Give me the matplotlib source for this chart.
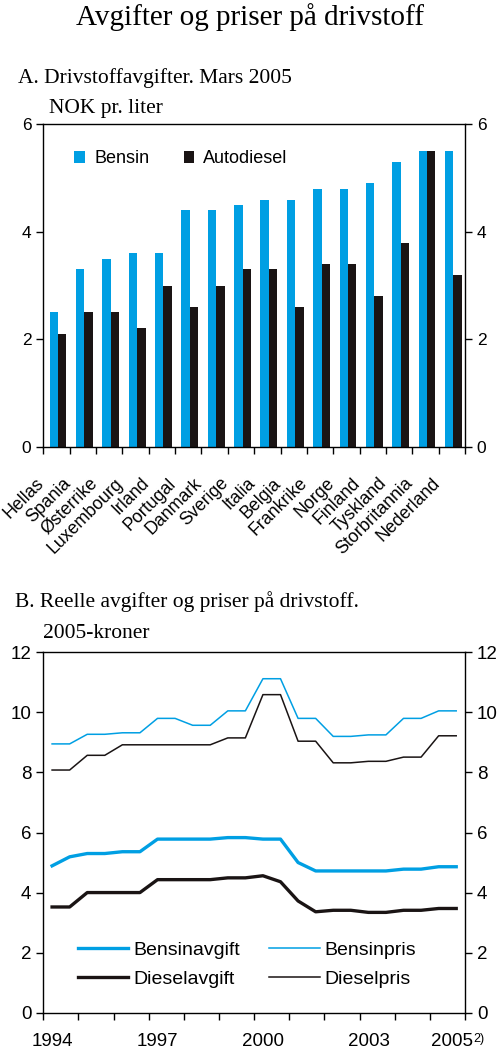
import matplotlib
matplotlib.use("Agg")
import matplotlib.pyplot as plt
import matplotlib.transforms as mtransforms
import numpy as np

# Panel A data
countries = ["Hellas", "Spania", "Østerrike", "Luxembourg", "Irland", "Portugal",
             "Danmark", "Sverige", "Italia", "Belgia", "Frankrike", "Norge",
             "Finland", "Tyskland", "Storbritannia", "Nederland"]
bensin = [2.5, 3.3, 3.5, 3.6, 3.6, 4.4, 4.4, 4.5, 4.6, 4.6, 4.8, 4.8, 4.9, 5.3, 5.5, 5.5]
autodiesel = [2.1, 2.5, 2.5, 2.2, 3.0, 2.6, 3.0, 3.3, 3.3, 2.6, 3.4, 3.4, 2.8, 3.8, 5.5, 3.2]

# Panel B data (half-year observations, 1994-2005)
periods = [1994.25 + 0.5 * k for k in range(24)]
bensinpris = [8.95, 8.95, 9.27, 9.27, 9.32, 9.32, 9.8, 9.8, 9.57, 9.57, 10.05, 10.05,
              11.12, 11.12, 9.8, 9.8, 9.2, 9.2, 9.25, 9.25, 9.8, 9.8, 10.05, 10.05]
dieselpris = [8.08, 8.08, 8.57, 8.57, 8.92, 8.92, 8.92, 8.92, 8.92, 8.92, 9.15, 9.15,
              10.59, 10.59, 9.04, 9.04, 8.32, 8.32, 8.37, 8.37, 8.51, 8.51, 9.22, 9.22]
bensinavgift = [4.89, 5.19, 5.3, 5.3, 5.36, 5.36, 5.78, 5.78, 5.78, 5.78, 5.83, 5.83,
                5.78, 5.78, 5.0, 4.72, 4.72, 4.72, 4.72, 4.72, 4.78, 4.78, 4.86, 4.86]
dieselavgift = [3.52, 3.52, 4.0, 4.0, 4.0, 4.0, 4.43, 4.43, 4.43, 4.43, 4.49, 4.49,
                4.56, 4.36, 3.72, 3.36, 3.41, 3.41, 3.34, 3.34, 3.41, 3.41, 3.47, 3.47]
year_labels = ["1994", "1997", "2000", "2003"]
year_label_pos = [1994, 1997, 2000, 2003]

BLUE = "#009fe3"
BLACK = "#1a1414"
SANS = "Liberation Sans"
SERIF = "Liberation Serif"

plt.rcParams["font.family"] = SANS
plt.rcParams["xtick.direction"] = "out"
plt.rcParams["ytick.direction"] = "out"

W, H = 500, 1053
fig = plt.figure(figsize=(W / 100, H / 100), dpi=100)

def fx(px):
    return px / W

def fy(px):
    return 1 - px / H

fig.text(0.5, fy(25), "Avgifter og priser på drivstoff", family=SERIF,
         fontsize=21, ha="center", va="baseline")

# ---------- Panel A ----------
fig.text(fx(18), fy(83), "A. Drivstoffavgifter. Mars 2005", family=SERIF,
         fontsize=15.5, va="baseline")
fig.text(fx(49), fy(113), "NOK pr. liter", family=SERIF, fontsize=15.5, va="baseline")

axA = fig.add_axes([fx(43.3), fy(446.7), fx(465 - 43.3), (446.7 - 124.3) / H])
x = np.arange(len(countries))
axA.bar(x - 0.1, bensin, width=0.32, color=BLUE, label="Bensin")
axA.bar(x + 0.22, autodiesel, width=0.32, color=BLACK, label="Autodiesel")
axA.set_xlim(-0.5, len(countries) - 0.5)
axA.set_ylim(0, 6)
axA.set_yticks([0, 2, 4, 6])
axA.set_xticks(np.arange(-0.5, len(countries), 1.0))
axA.set_xticklabels([])
axA.tick_params(axis="both", length=5, width=1, labelsize=12.5)
axA.tick_params(axis="y", right=True, labelright=True)
for s in axA.spines.values():
    s.set_linewidth(1)

# rotated country names under the bars
trans = mtransforms.blended_transform_factory(axA.transData, axA.transAxes)
offs = mtransforms.ScaledTranslation(0, -28 / 100, fig.dpi_scale_trans)
for i, name in enumerate(countries):
    axA.text(i - 0.79, 0, name, transform=trans + offs, rotation=45,
             rotation_mode="anchor", ha="right", va="top", fontsize=12.8)

axA.legend(loc="upper left", bbox_to_anchor=(0.035, 0.97), ncol=2, frameon=False,
           fontsize=13, handlelength=0.6, handleheight=0.6, handletextpad=0.5,
           columnspacing=1.9)

# ---------- Panel B ----------
fig.text(fx(15), fy(606.7), "B. Reelle avgifter og priser på drivstoff.",
         family=SERIF, fontsize=15.5, va="baseline")
fig.text(fx(43), fy(638), "2005-kroner", family=SERIF, fontsize=15.5, va="baseline")

axB = fig.add_axes([fx(43.3), fy(1012.7), fx(465 - 43.3), (1012.7 - 652.3) / H])
axB.plot(periods, bensinavgift, color=BLUE, lw=2.4, label="Bensinavgift")
axB.plot(periods, bensinpris, color=BLUE, lw=1.1, label="Bensinpris")
axB.plot(periods, dieselavgift, color=BLACK, lw=2.4, label="Dieselavgift")
axB.plot(periods, dieselpris, color=BLACK, lw=1.1, label="Dieselpris")
axB.set_xlim(1994, 2006)
axB.set_ylim(0, 12)
axB.set_yticks(range(0, 13, 2))
axB.set_xticks(range(1994, 2007))
axB.set_xticklabels([])
axB.tick_params(axis="both", length=5, width=1, labelsize=13.5)
axB.tick_params(axis="y", right=True, labelright=True)
for s in axB.spines.values():
    s.set_linewidth(1)

transB = mtransforms.blended_transform_factory(axB.transData, axB.transAxes)
offB = mtransforms.ScaledTranslation(0, -20 / 100, fig.dpi_scale_trans)
for lab, pos in zip(year_labels, year_label_pos):
    axB.text(pos + 0.26, 0, lab, transform=transB + offB, ha="center", va="top",
             fontsize=13.5)
axB.text(2006.22, 0, "2005", transform=transB + offB, ha="right", va="top",
         fontsize=13.5)
axB.text(2006.24, 0, "2)", transform=transB + offB, ha="left", va="top", fontsize=9)

h, l = axB.get_legend_handles_labels()
order = [0, 2, 1, 3]
axB.legend([h[k] for k in order], [l[k] for k in order], loc="lower left",
           bbox_to_anchor=(0.082, 0.068), ncol=2, frameon=False, fontsize=14,
           handlelength=2.6, handletextpad=0.25, columnspacing=1.5, labelspacing=0.6,
           borderaxespad=0, borderpad=0)

fig.savefig("out.png", dpi=100)
